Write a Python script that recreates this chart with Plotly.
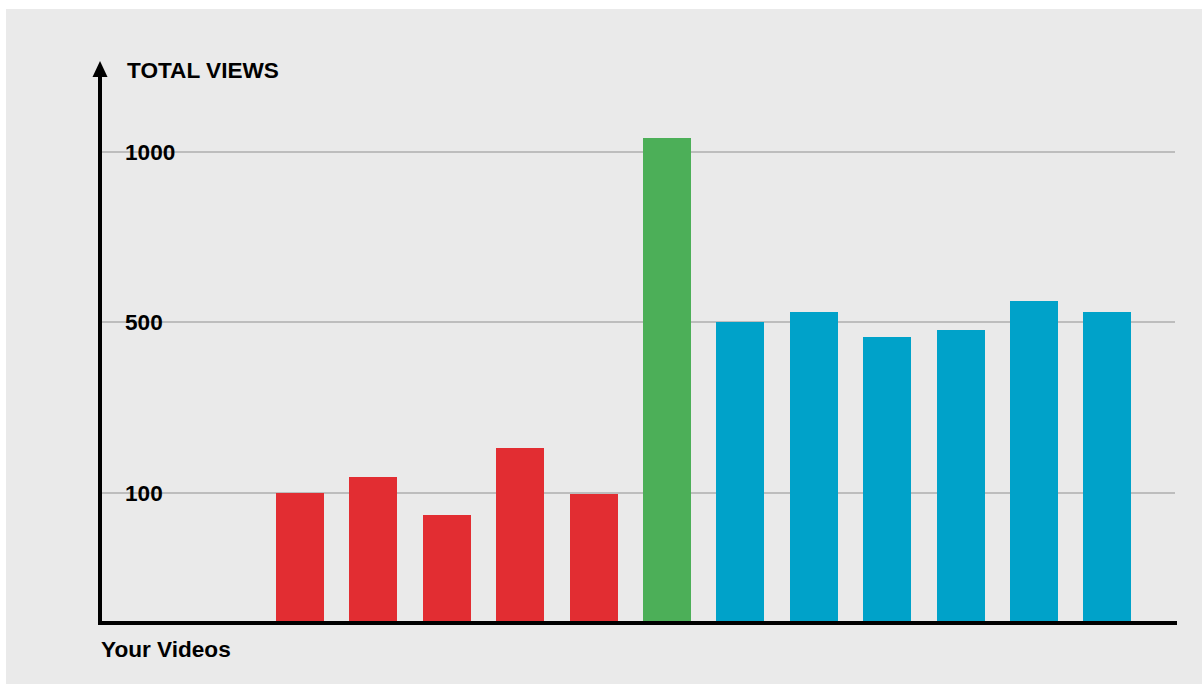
import numpy as np
import plotly.graph_objects as go

# ---- data ----
videos = ["V1", "V2", "V3", "V4", "V5", "V6", "V7", "V8", "V9", "V10", "V11", "V12"]
views = [100, 137, 83, 205, 99, 1040, 500, 530, 465, 480, 560, 530]
groups = ["low", "low", "low", "low", "low", "viral", "high", "high", "high", "high", "high", "high"]
tick_values = [100, 500, 1000]
tick_labels = ["100", "500", "1000"]

group_colors = {"low": "#e22d32", "viral": "#4caf58", "high": "#00a2c9"}

# The reference uses an uneven (piecewise) value scale: equal spacing between 100, 500, 1000
scale_in = [0, 100, 500, 1000, 2000]
scale_out = [0, 129.3, 300.3, 470.3, 810.3]


def scale(v):
    return np.interp(v, scale_in, scale_out)


W, H = 1202, 684
ML, MR, MT, MB = 99, 27, 60, 62
PW, PH = W - ML - MR, H - MT - MB


def px(x):
    return (x - ML) / PW


def py(y):
    return (H - MB - y) / PH


FONT = dict(family="Liberation Sans, Arial", size=22.6, color="black", weight="bold")

fig = go.Figure()
fig.add_trace(go.Bar(
    x=videos,
    y=scale(views),
    customdata=views,
    hovertemplate="%{x}: %{customdata} views<extra></extra>",
    marker=dict(color=[group_colors[g] for g in groups], line=dict(width=0)),
    width=0.654,
))

shapes = [
    # grey background panel
    dict(type="rect", xref="paper", yref="paper", x0=px(6), x1=px(1210), y0=py(9), y1=py(690),
         fillcolor="#eaeaea", line=dict(width=0), layer="below"),
    # y axis line
    dict(type="line", xref="paper", yref="paper", x0=px(100), x1=px(100), y0=py(625), y1=py(74),
         line=dict(color="black", width=4), layer="above"),
    # arrowhead
    dict(type="path", xref="paper", yref="paper",
         path=f"M {px(92.5)} {py(77)} L {px(107.5)} {py(77)} L {px(100)} {py(61)} Z",
         fillcolor="black", line=dict(width=0), layer="above"),
    # baseline
    dict(type="line", xref="paper", yref="paper", x0=px(98), x1=px(1177), y0=py(623), y1=py(623),
         line=dict(color="black", width=4), layer="above"),
]

annotations = [
    dict(text="TOTAL VIEWS", xref="paper", yref="paper", x=px(124.5), y=py(70.5),
         xanchor="left", yanchor="middle", showarrow=False, font=FONT),
    dict(text="Your Videos", xref="paper", yref="paper", x=px(98.5), y=py(649.5),
         xanchor="left", yanchor="middle", showarrow=False, font=FONT),
]

n = len(videos)
fig.update_layout(
    width=W, height=H,
    margin=dict(l=ML, r=MR, t=MT, b=MB),
    paper_bgcolor="white",
    plot_bgcolor="rgba(0,0,0,0)",
    showlegend=False,
    shapes=shapes,
    annotations=annotations,
    xaxis=dict(type="category", range=[-2.739, n - 1 + 0.922], showticklabels=False,
               showgrid=False, zeroline=False, showline=False, ticks=""),
    yaxis=dict(range=[0, PH], tickmode="array", tickvals=list(scale(tick_values)), ticktext=tick_labels,
               ticklabelposition="inside", ticklabelstandoff=23, ticks="",
               tickfont=FONT,
               showgrid=True, gridcolor="#bdbdbd", gridwidth=2, zeroline=False, showline=False),
    bargap=0,
)

fig.write_html("out.html")
